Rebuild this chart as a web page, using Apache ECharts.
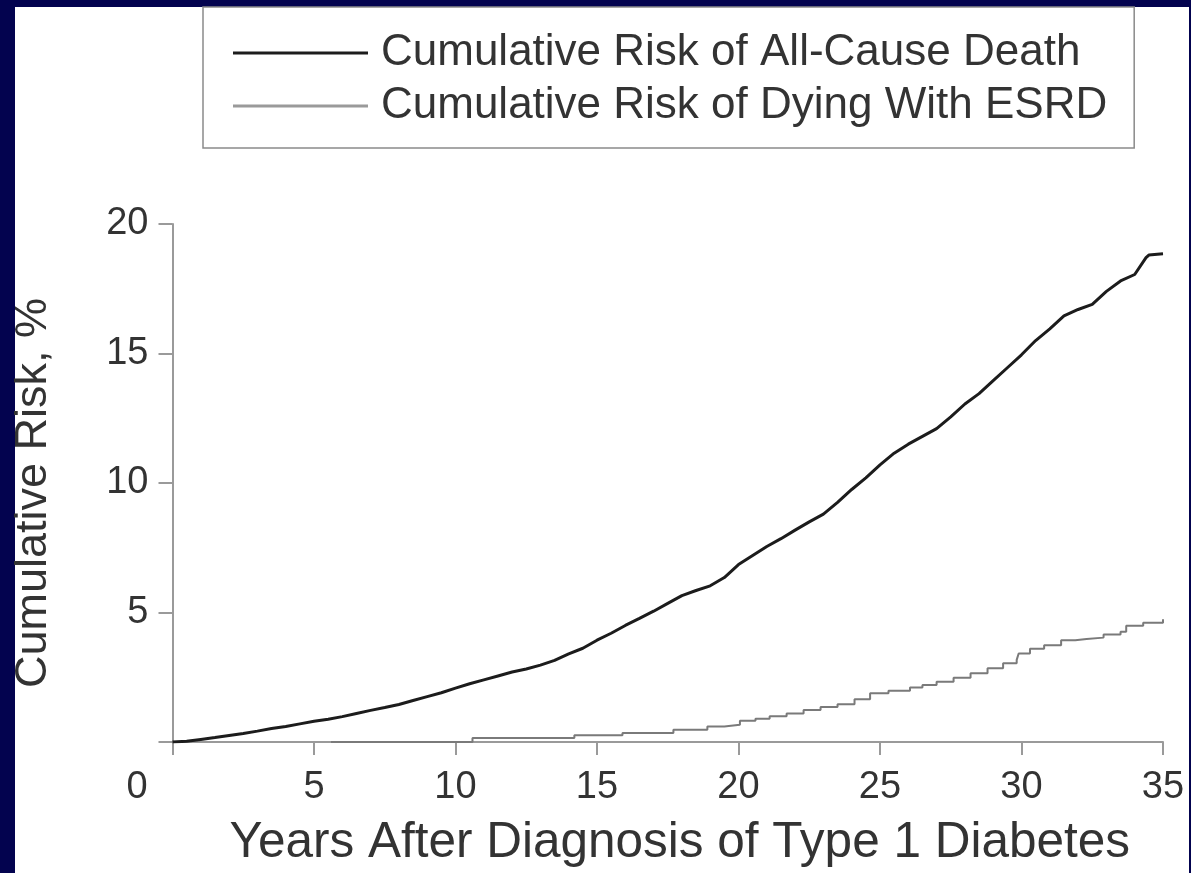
<!DOCTYPE html>
<html>
<head>
<meta charset="utf-8">
<script src="https://cdn.jsdelivr.net/npm/echarts@6/dist/echarts.min.js"></script>
<style>
  html, body { margin: 0; padding: 0; background: #03034f; }
  #panel { position: absolute; left: 15px; top: 7px; width: 1174px; height: 866px; background: #ffffff; }
  #chart { position: absolute; left: 0; top: 0; width: 1191px; height: 873px; }
</style>
</head>
<body>
<div id="panel"></div>
<div id="chart"></div>
<script>
// ---- Data ----
const seriesNames = ['Cumulative Risk of All-Cause Death', 'Cumulative Risk of Dying With ESRD'];
const xTicks = [0, 5, 10, 15, 20, 25, 30, 35];
const yTicks = [0, 5, 10, 15, 20];

const deathYears = [0, 0.5, 1, 1.5, 2, 2.5, 3, 3.5, 4, 4.5, 5, 5.5, 6, 6.5, 7, 7.5, 8, 8.5, 9, 9.5,
  10, 10.5, 11, 11.5, 12, 12.5, 13, 13.5, 14, 14.5, 15, 15.5, 16, 16.5, 17, 17.5, 18, 18.5, 19, 19.5,
  20, 20.5, 21, 21.5, 22, 22.5, 23, 23.5, 24, 24.5, 25, 25.5, 26, 26.5, 27, 27.5, 28, 28.5, 29, 29.5,
  30, 30.5, 31, 31.5, 32, 32.5, 33, 33.5, 34, 34.4, 34.5, 35];
const deathRisk = [0, 0.03, 0.1, 0.17, 0.25, 0.33, 0.42, 0.52, 0.6, 0.7, 0.8, 0.88, 0.98, 1.1, 1.22, 1.33, 1.45, 1.6, 1.75, 1.9,
  2.08, 2.25, 2.4, 2.55, 2.7, 2.82, 2.97, 3.15, 3.4, 3.62, 3.93, 4.2, 4.5, 4.77, 5.05, 5.35, 5.65, 5.85, 6.03, 6.35,
  6.85, 7.2, 7.55, 7.85, 8.18, 8.5, 8.8, 9.25, 9.75, 10.2, 10.7, 11.15, 11.5, 11.8, 12.1, 12.55, 13.05, 13.45, 13.95, 14.45,
  14.95, 15.5, 15.95, 16.45, 16.7, 16.9, 17.4, 17.8, 18.05, 18.7, 18.8, 18.85];

const esrdYears = [5.6, 10.6, 14.2, 15.9, 17.7, 18.9, 19.5, 20.05, 20.6, 21.1, 21.7, 22.3, 22.9, 23.5, 24.1, 24.65,
  25.3, 26.06, 26.5, 27, 27.6, 28.2, 28.8, 29.35, 29.83, 29.9, 30.3, 30.8, 31.4, 31.9, 32.3, 32.9, 33.5, 33.7, 34.3, 35];
const esrdRisk = [0, 0.15, 0.26, 0.35, 0.47, 0.6, 0.67, 0.82, 0.9, 0.99, 1.1, 1.24, 1.35, 1.46, 1.65, 1.88,
  1.98, 2.1, 2.2, 2.33, 2.48, 2.65, 2.85, 3.04, 3.17, 3.42, 3.6, 3.74, 3.93, 3.98, 4.03, 4.15, 4.26, 4.49, 4.6, 4.74];

// ---- Chart ----
const FONT = '"Liberation Sans", Arial, Helvetica, sans-serif';
const TXT = '#333333';
const AXIS = '#9a9a9a';
const DEATH_COLOR = '#1c1c1c';
const ESRD_COLOR = '#7a7a7a';

const chart = echarts.init(document.getElementById('chart'), null, { renderer: 'canvas' });
const option = {
  backgroundColor: 'transparent',
  animation: false,
  textStyle: { fontFamily: FONT, color: TXT },
  legend: {
    left: 203, top: 7,
    orient: 'vertical',
    padding: [24, 27, 20, 30],
    itemGap: 9,
    itemWidth: 135,
    itemHeight: 3,
    backgroundColor: '#ffffff',
    borderColor: '#8a8a8a',
    borderWidth: 1.5,
    borderRadius: 0,
    textStyle: { fontFamily: FONT, fontSize: 44, color: TXT, padding: [0, 0, 0, 8] },
    data: [
      { name: seriesNames[0], icon: 'rect', itemStyle: { color: DEATH_COLOR } },
      { name: seriesNames[1], icon: 'rect', itemStyle: { color: '#9a9a9a' } }
    ]
  },
  grid: { left: 172.5, right: 28, top: 224, bottom: 129, containLabel: false },
  xAxis: {
    type: 'value',
    min: xTicks[0], max: xTicks[xTicks.length - 1], interval: 5,
    name: 'Years After Diagnosis of Type 1 Diabetes',
    nameLocation: 'middle',
    nameGap: 76,
    nameTextStyle: { fontFamily: FONT, fontSize: 49.5, color: TXT, padding: [0, 0, 0, 24] },
    axisLine: { lineStyle: { color: AXIS, width: 2 } },
    axisTick: { show: true, length: 13, lineStyle: { color: AXIS, width: 2 } },
    splitLine: { show: false },
    axisLabel: {
      margin: 27, fontFamily: FONT, fontSize: 38, color: TXT,
      formatter: v => v === 0 ? '{o|0}' : String(v),
      rich: { o: { fontFamily: FONT, fontSize: 38, color: TXT, padding: [0, 71, 0, 0] } }
    }
  },
  yAxis: {
    type: 'value',
    min: yTicks[0], max: yTicks[yTicks.length - 1], interval: 5,
    name: 'Cumulative Risk, %',
    nameLocation: 'middle',
    nameGap: 116,
    nameRotate: 90,
    nameTextStyle: { fontFamily: FONT, fontSize: 45, color: TXT, padding: [0, 20, 0, 0] },
    axisLine: { show: true, lineStyle: { color: AXIS, width: 2 } },
    axisTick: { show: true, length: 14, lineStyle: { color: AXIS, width: 2 } },
    splitLine: { show: false },
    axisLabel: {
      margin: 24, fontFamily: FONT, fontSize: 38, color: TXT,
      formatter: v => v === 0 ? '' : String(v)
    }
  },
  series: [
    {
      name: seriesNames[0],
      type: 'line',
      symbol: 'none',
      lineStyle: { color: DEATH_COLOR, width: 3 },
      itemStyle: { color: DEATH_COLOR },
      data: deathYears.map((x, i) => [x, deathRisk[i]]),
      z: 3
    },
    {
      name: seriesNames[1],
      type: 'line',
      step: 'end',
      symbol: 'none',
      lineStyle: { color: ESRD_COLOR, width: 2 },
      itemStyle: { color: ESRD_COLOR },
      data: esrdYears.map((x, i) => [x, esrdRisk[i]]),
      z: 2
    }
  ]
};
chart.setOption(option);
</script>
</body>
</html>
